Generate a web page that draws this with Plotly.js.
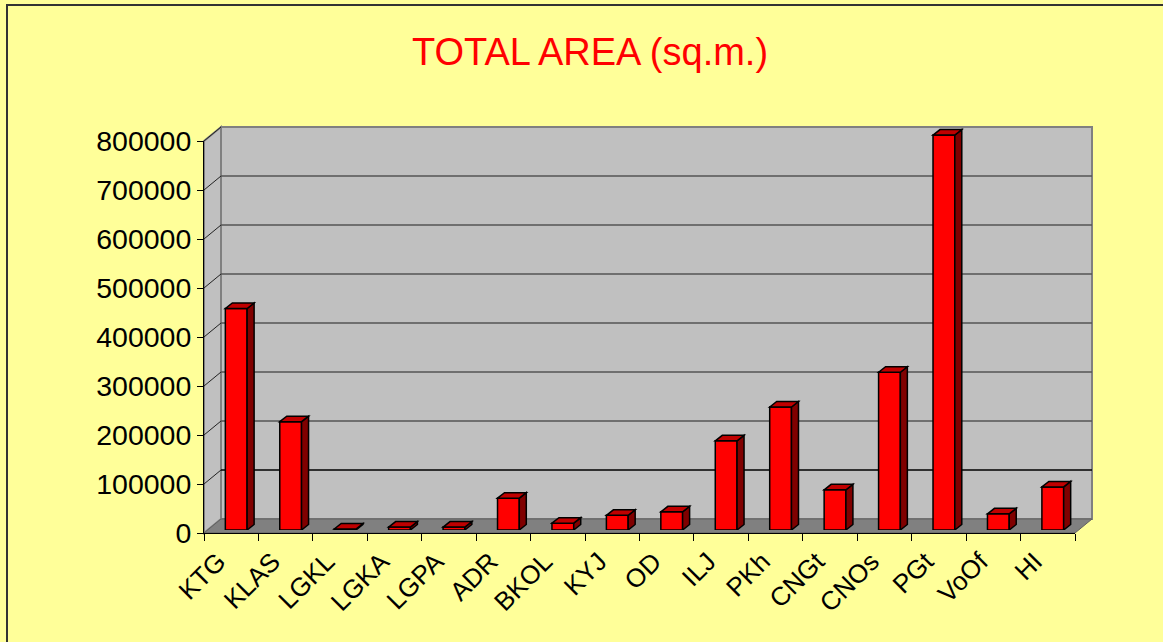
<!DOCTYPE html>
<html>
<head>
<meta charset="utf-8">
<script src="https://cdn.plot.ly/plotly-3.0.1.min.js"></script>
<style>
  html, body { margin: 0; padding: 0; background: #FFFF99; }
  #wrap { position: relative; width: 1163px; height: 642px; overflow: hidden; }
  #chart { width: 1163px; height: 642px; }
  #frame { position: absolute; left: 6px; top: 4px; width: 1200px; height: 700px;
           border-left: 2px solid #333; border-top: 2px solid #333; pointer-events: none; }
</style>
</head>
<body>
<div id="wrap"><div id="chart"></div><div id="frame"></div></div>
<script>
// ---- data ----
const categories = ["KTG","KLAS","LGKL","LGKA","LGPA","ADR","BKOL","KYJ","OD","ILJ","PKh","CNGt","CNOs","PGt","VoOf","HI"];
const areaValues = [452000, 221000, 2000, 6000, 6000, 65000, 14000, 30000, 37000, 182000, 251000, 82000, 322000, 806000, 33000, 88000];
const yTickValues = [0, 100000, 200000, 300000, 400000, 500000, 600000, 700000, 800000];
const chartTitle = "TOTAL AREA (sq.m.)";

// ---- geometry (pixels) ----
const W = 1163, H = 642;
const frontL = 204, frontR = 1075, frontB = 533, frontT = 141;
const depthX = 17, depthY = 14;           // wall depth
const barShiftX = 5, barShiftY = 3;       // bar front plane offset
const barDX = 7, barDY = 5.5;             // bar depth
const yMax = 800000;
const plotL = frontL, plotR = frontR + depthX, plotB = frontB;
const plotTop = frontT - depthY - 1;
const plotW = plotR - plotL, plotH = plotB - plotTop;
const nCat = categories.length;
const pxPerX = (frontR - frontL) / nCat;
const pxPerY = (frontB - frontT) / yMax;
const barWidth = 0.4;

// paper helpers
const px2paperX = p => (p - plotL) / plotW;
const py2paperY = p => (plotB - p) / plotH;

const shapes = [];
// back wall
shapes.push({type:'rect', xref:'paper', yref:'paper', layer:'below',
  x0: px2paperX(frontL + depthX), x1: px2paperX(frontR + depthX),
  y0: py2paperY(frontB - depthY), y1: py2paperY(frontT - depthY),
  fillcolor:'#C0C0C0', line:{color:'#808080', width:2}});
// left wall
shapes.push({type:'path', xref:'paper', yref:'paper', layer:'below',
  path: `M ${px2paperX(frontL)},${py2paperY(frontB)} L ${px2paperX(frontL)},${py2paperY(frontT)} L ${px2paperX(frontL+depthX)},${py2paperY(frontT-depthY)} L ${px2paperX(frontL+depthX)},${py2paperY(frontB-depthY)} Z`,
  fillcolor:'#C0C0C0', line:{color:'#808080', width:2}});
// floor
shapes.push({type:'path', xref:'paper', yref:'paper', layer:'below',
  path: `M ${px2paperX(frontL)},${py2paperY(frontB)} L ${px2paperX(frontR)},${py2paperY(frontB)} L ${px2paperX(frontR+depthX)},${py2paperY(frontB-depthY)} L ${px2paperX(frontL+depthX)},${py2paperY(frontB-depthY)} Z`,
  fillcolor:'#808080', line:{color:'#606060', width:1}});
// gridlines on back wall + diagonals on left wall
yTickValues.forEach(v => {
  const yFront = frontB - v * pxPerY;
  const yBack = yFront - depthY;
  if (v > 0 && v < yMax) {
    shapes.push({type:'line', xref:'paper', yref:'paper', layer:'below',
      x0: px2paperX(frontL + depthX), x1: px2paperX(frontR + depthX),
      y0: py2paperY(yBack), y1: py2paperY(yBack),
      line:{color: v === 100000 ? '#000000' : '#555555', width:1.5}});
  }
  if (v > 0) {
    shapes.push({type:'line', xref:'paper', yref:'paper', layer:'below',
      x0: px2paperX(frontL), x1: px2paperX(frontL + depthX),
      y0: py2paperY(yFront), y1: py2paperY(yBack),
      line:{color:'#222222', width:1}});
  }
});

// bar 3D faces in bar-axis data coords
const dxData = barDX / pxPerX, dyData = barDY / pxPerY;
areaValues.forEach((v, i) => {
  const l = i - barWidth/2, r = i + barWidth/2;
  shapes.push({type:'path', xref:'x2', yref:'y2',
    path:`M ${r},0 L ${r+dxData},${dyData} L ${r+dxData},${v+dyData} L ${r},${v} Z`,
    fillcolor:'#800000', line:{color:'#000000', width:1.5}});
  shapes.push({type:'path', xref:'x2', yref:'y2',
    path:`M ${l},${v} L ${l+dxData},${v+dyData} L ${r+dxData},${v+dyData} L ${r},${v} Z`,
    fillcolor:'#C00000', line:{color:'#000000', width:1.5}});
});

const fontFam = '"Liberation Sans", Arial, sans-serif';

const traces = [
  { type:'scatter', mode:'none', x: categories, y: areaValues, xaxis:'x', yaxis:'y', hoverinfo:'skip', showlegend:false },
  { type:'bar', x: categories.map((c,i)=>i), y: areaValues, xaxis:'x2', yaxis:'y2', width: barWidth,
    marker:{color:'#FF0000', line:{color:'#000000', width:1.5}}, hoverinfo:'skip', showlegend:false }
];

const x2Left = frontL + barShiftX;
const layout = {
  width: W, height: H,
  paper_bgcolor:'#FFFF99', plot_bgcolor:'rgba(0,0,0,0)',
  margin:{l: plotL, r: W - plotR, t: plotTop, b: H - plotB, pad:0},
  showlegend:false,
  title:{text: chartTitle, font:{family: fontFam, size:38, color:'#FF0000'},
    xref:'container', yref:'container', x: 590/W, y: 1 - 52/H, xanchor:'center', yanchor:'middle'},
  xaxis:{domain:[0, (frontR-frontL)/plotW], type:'category', range:[-0.5, nCat-0.5],
    tickson:'boundaries', ticks:'outside', ticklen:7, tickcolor:'#000', tickwidth:1,
    showline:true, linecolor:'#000', linewidth:1, showgrid:false, zeroline:false,
    tickangle:-45, ticklabelshift:-13, ticklabelstandoff:2,
    tickfont:{family: fontFam, size:26, color:'#000'}, anchor:'y', fixedrange:true},
  yaxis:{domain:[0, (frontB-frontT)/plotH], range:[0, yMax], tickmode:'array', tickvals: yTickValues,
    ticktext: yTickValues.map(v => String(v)),
    ticks:'outside', ticklen:6, tickcolor:'#000', showline:true, linecolor:'#000', linewidth:1,
    showgrid:false, zeroline:false, tickfont:{family: fontFam, size:28.5, color:'#000'}, anchor:'x', fixedrange:true},
  xaxis2:{domain:[barShiftX/plotW, 1], range:[-0.5, -0.5 + (plotR - x2Left)/pxPerX], visible:false, anchor:'y2', fixedrange:true},
  yaxis2:{domain:[barShiftY/plotH, 1], range:[0, (plotB - barShiftY - plotTop)/pxPerY], visible:false, anchor:'x2', fixedrange:true},
  shapes: shapes
};

Plotly.newPlot('chart', traces, layout, {staticPlot:true, displayModeBar:false});
</script>
</body>
</html>
